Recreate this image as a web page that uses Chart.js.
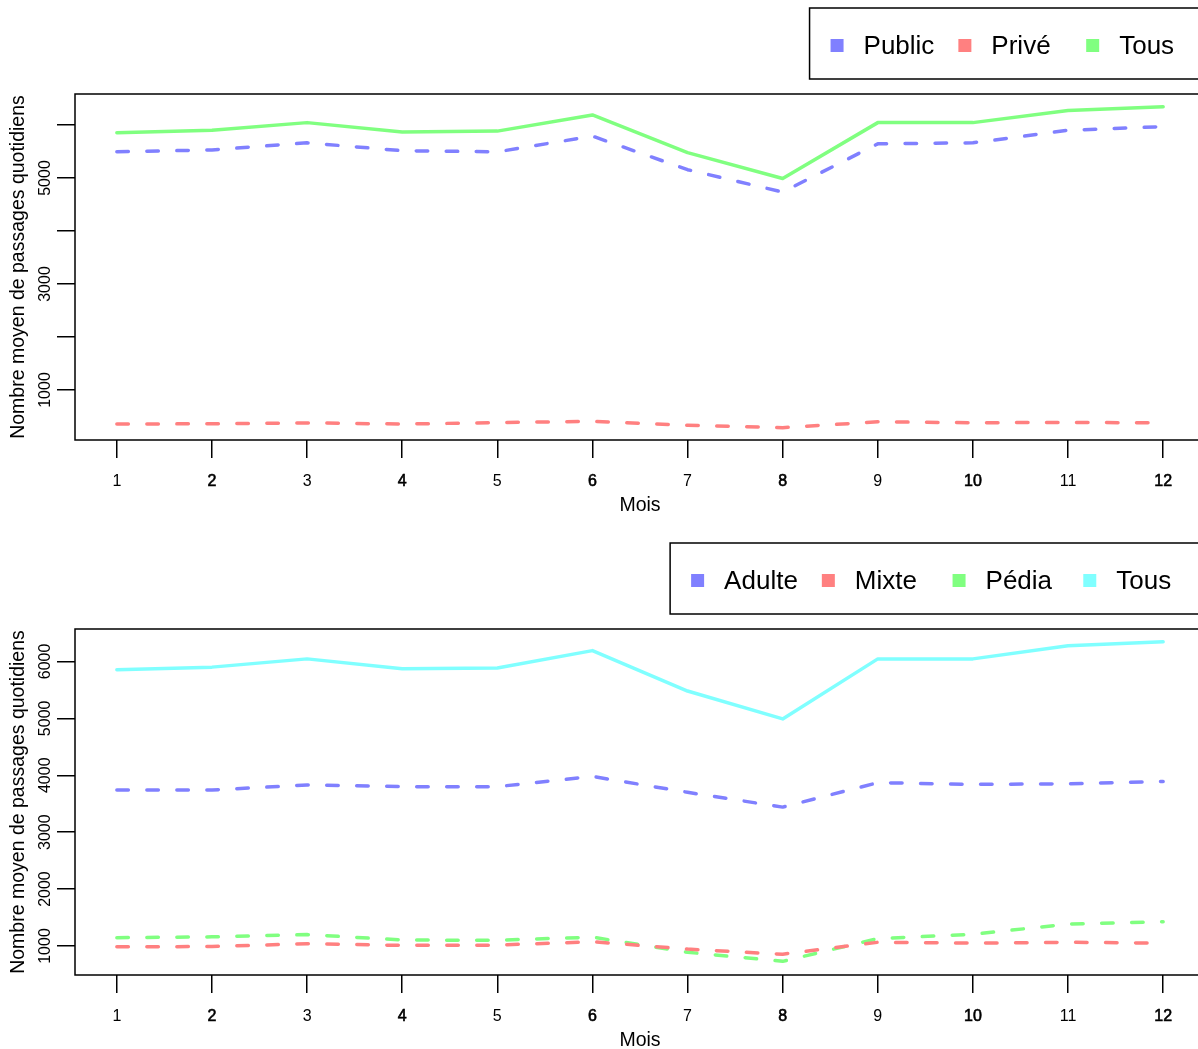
<!DOCTYPE html>
<html lang="fr">
<head>
<meta charset="UTF-8">
<title>Passages quotidiens</title>
<script src="https://cdn.jsdelivr.net/npm/chart.js"></script>
<style>
    html, body {
        margin: 0;
        padding: 0;
        background: #fff;
        overflow: hidden;
        width: 1198px;
        height: 1049px;
    }
    .panel {
        width: 1198px;
        overflow: hidden;
        position: relative;
    }
    #top-panel { height: 535px; }
    #bottom-panel { height: 514px; }
    canvas { display: block; }
</style>
</head>
<body>
<div class="panel" id="top-panel"><canvas id="chartTop" width="1240" height="535"></canvas></div>
<div class="panel" id="bottom-panel"><canvas id="chartBottom" width="1240" height="535"></canvas></div>

<script>
// months on the x axis
const months = [1, 2, 3, 4, 5, 6, 7, 8, 9, 10, 11, 12];

// top panel: secteur
const publicVals = [5494, 5530, 5664, 5515, 5494, 5790, 5157, 4735, 5645, 5664, 5900, 5970];
const priveVals  = [360, 362, 380, 358, 385, 410, 335, 290, 400, 382, 390, 380];
const tousVals   = [5855, 5900, 6045, 5870, 5885, 6190, 5480, 4990, 6045, 6045, 6275, 6345];

// bottom panel: type d'urgences
const adulteVals = [3740, 3740, 3830, 3800, 3800, 3980, 3700, 3440, 3870, 3840, 3850, 3890];
const mixteVals  = [985, 990, 1040, 1010, 1015, 1075, 945, 855, 1065, 1050, 1065, 1050];
const pediaVals  = [1145, 1160, 1200, 1105, 1100, 1155, 890, 730, 1130, 1205, 1385, 1425];

const yTicks = [1000, 2000, 3000, 4000, 5000, 6000];

const BLUE = 'rgb(128,128,255)';
const RED = 'rgb(255,128,128)';
const GREEN = 'rgb(128,255,128)';
const CYAN = 'rgb(128,255,255)';
const FONT = '"Liberation Sans", Arial, Helvetica, sans-serif';
const DASH = [11.5, 18.5];

function series(label, vals, color, dashed) {
    return {
        label: label,
        data: months.map((m, i) => ({ x: m, y: vals[i] })),
        borderColor: color,
        backgroundColor: color,
        borderWidth: 3.5,
        borderDash: dashed ? DASH : [],
        borderCapStyle: 'round',
        borderJoinStyle: 'round',
        pointRadius: 0,
        tension: 0,
        fill: false
    };
}

// box around the plot area (R style frame)
const framePlugin = {
    id: 'frame',
    afterDraw(chart) {
        const a = chart.chartArea, ctx = chart.ctx;
        ctx.save();
        ctx.strokeStyle = '#000';
        ctx.lineWidth = 1.5;
        ctx.strokeRect(a.left, a.top, a.right - a.left, a.bottom - a.top);
        ctx.restore();
    }
};

// horizontal legend in a box, anchored on the right of the plot
const boxLegendPlugin = {
    id: 'boxLegend',
    afterDraw(chart) {
        const ctx = chart.ctx, a = chart.chartArea;
        const items = chart.data.datasets;
        ctx.save();
        ctx.font = '26px ' + FONT;
        const maxW = Math.max(...items.map(d => ctx.measureText(d.label).width));
        const step = maxW + 57;
        const boxW = 12 + items.length * step;
        const left = a.right - boxW;
        const top = 8, bottom = 79;
        ctx.strokeStyle = '#000';
        ctx.lineWidth = 1.5;
        ctx.strokeRect(left, top, boxW + 40, bottom - top);
        ctx.textBaseline = 'alphabetic';
        ctx.textAlign = 'left';
        items.forEach((d, i) => {
            const sx = left + 21 + i * step;
            ctx.fillStyle = d.borderColor;
            ctx.fillRect(sx, top + 31, 13, 13);
            ctx.fillStyle = '#000';
            ctx.fillText(d.label, sx + 33, top + 45.5);
        });
        ctx.restore();
    }
};

function makeChart(id, datasets, yMin, yMax, labelOddOnly) {
    return new Chart(document.getElementById(id), {
        type: 'line',
        data: { datasets: datasets },
        plugins: [framePlugin, boxLegendPlugin],
        options: {
            responsive: false,
            animation: false,
            devicePixelRatio: 1,
            layout: { padding: { top: 94, right: 35, bottom: 0, left: 0 } },
            plugins: { legend: { display: false }, tooltip: { enabled: false } },
            scales: {
                x: {
                    type: 'linear',
                    min: 0.56,
                    max: 12.44,
                    afterBuildTicks: s => { s.ticks = months.map(v => ({ value: v })); },
                    afterFit: s => { s.height = 95; },
                    border: { display: false },
                    grid: {
                        drawOnChartArea: false,
                        drawTicks: true,
                        tickLength: 18,
                        color: '#000',
                        lineWidth: 1.5
                    },
                    ticks: {
                        color: '#000',
                        padding: 14,
                        maxRotation: 0,
                        autoSkip: false,
                        font: { family: FONT, size: 16 },
                        // even months look slightly heavier in the original
                        textStrokeColor: '#000',
                        textStrokeWidth: c => (c.tick && c.tick.value % 2 === 0) ? 0.6 : 0,
                        callback: v => String(v)
                    },
                    title: {
                        display: true,
                        text: 'Mois',
                        color: '#000',
                        font: { family: FONT, size: 19.5 },
                        padding: { top: 0, bottom: 18 }
                    }
                },
                y: {
                    type: 'linear',
                    min: yMin,
                    max: yMax,
                    afterBuildTicks: s => { s.ticks = yTicks.map(v => ({ value: v })); },
                    afterFit: s => { s.width = 75; },
                    border: { display: false },
                    grid: {
                        drawOnChartArea: false,
                        drawTicks: true,
                        tickLength: 18,
                        color: '#000',
                        lineWidth: 1.5
                    },
                    ticks: {
                        color: '#000',
                        padding: -6,
                        minRotation: 90,
                        maxRotation: 90,
                        crossAlign: 'center',
                        autoSkip: false,
                        font: { family: FONT, size: 16 },
                        callback: v => (labelOddOnly && (v / 1000) % 2 === 0) ? '' : String(v)
                    },
                    title: {
                        display: true,
                        text: 'Nombre moyen de passages quotidiens',
                        color: '#000',
                        font: { family: FONT, size: 19.5 },
                        padding: { top: 7, bottom: 0 }
                    }
                }
            }
        }
    });
}

makeChart('chartTop', [
    series('Public', publicVals, BLUE, true),
    series('Privé', priveVals, RED, true),
    series('Tous', tousVals, GREEN, false)
], 57, 6585, true);

makeChart('chartBottom', [
    series('Adulte', adulteVals, BLUE, true),
    series('Mixte', mixteVals, RED, true),
    series('Pédia', pediaVals, GREEN, true),
    series('Tous', tousVals, CYAN, false)
], 490, 6570, false);
</script>
</body>
</html>
